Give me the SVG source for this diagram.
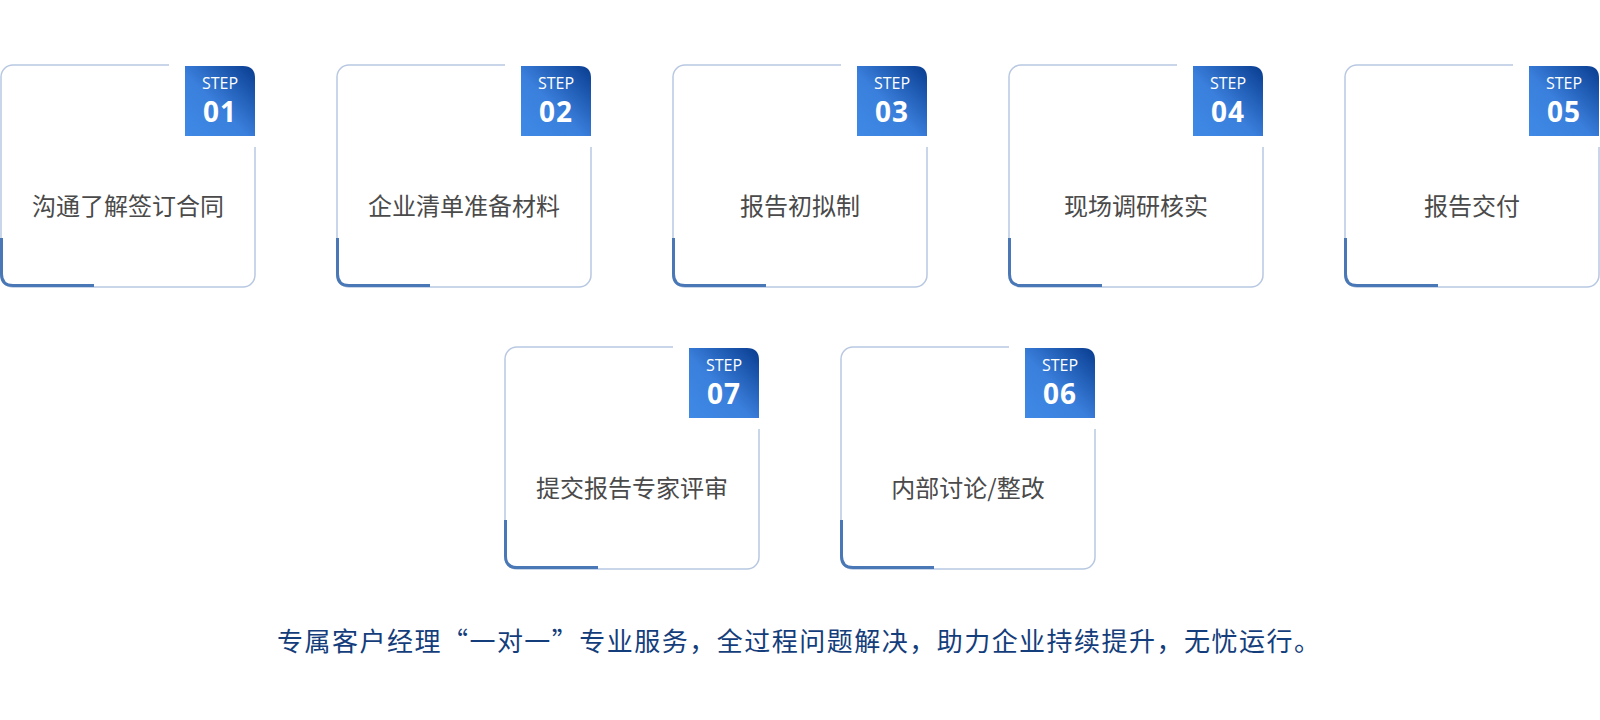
<svg xmlns="http://www.w3.org/2000/svg" width="1600" height="720" viewBox="0 0 1600 720">
<defs>
<linearGradient id="bg" x1="0" y1="1" x2="1" y2="0">
<stop offset="0" stop-color="#3f8ae6"/>
<stop offset="0.45" stop-color="#3a7fdc"/>
<stop offset="1" stop-color="#083c8f"/>
</linearGradient>
<style>
.frame{fill:#fff;stroke:#b8c8e1;stroke-width:1.5}
.cover{fill:#fff}
.acc{fill:none;stroke:#4a77b6;stroke-width:3}
.step{font-family:"Open Sans","Liberation Sans",sans-serif;font-size:16px;fill:#fff;text-anchor:middle}
.num{font-family:"Open Sans","Liberation Sans",sans-serif;font-size:28px;font-weight:700;fill:#fff;text-anchor:middle;letter-spacing:1px}
.lbl{font-family:"Noto Sans CJK SC","Noto Sans",sans-serif;font-size:24px;fill:#4a4a4a;text-anchor:middle}
.foot{font-family:"Noto Sans CJK SC","Noto Sans",sans-serif;font-size:26px;fill:#143d7b}
</style>
<g id="card">
<rect class="frame" x="1" y="0" width="254" height="222" rx="12"/>
<rect class="cover" x="169" y="-2" width="90" height="84"/>
<path d="M185 1 H243 Q255 1 255 13 V71 H185 Z" fill="url(#bg)"/>
<path class="acc" d="M1.5 173 V209 Q1.5 220.5 13 220.5 H94"/>
<text class="step" x="220" y="24">STEP</text>
</g>
</defs>
<g id="step01" transform="translate(0,65)">
<use href="#card"/>
<text class="num" x="220" y="57">01</text>
<text class="lbl" x="128" y="150">沟通了解签订合同</text>
</g>
<g id="step02" transform="translate(336,65)">
<use href="#card"/>
<text class="num" x="220" y="57">02</text>
<text class="lbl" x="128" y="150">企业清单准备材料</text>
</g>
<g id="step03" transform="translate(672,65)">
<use href="#card"/>
<text class="num" x="220" y="57">03</text>
<text class="lbl" x="128" y="150">报告初拟制</text>
</g>
<g id="step04" transform="translate(1008,65)">
<use href="#card"/>
<text class="num" x="220" y="57">04</text>
<text class="lbl" x="128" y="150">现场调研核实</text>
</g>
<g id="step05" transform="translate(1344,65)">
<use href="#card"/>
<text class="num" x="220" y="57">05</text>
<text class="lbl" x="128" y="150">报告交付</text>
</g>
<g id="step07" transform="translate(504,347)">
<use href="#card"/>
<text class="num" x="220" y="57">07</text>
<text class="lbl" x="128" y="150">提交报告专家评审</text>
</g>
<g id="step06" transform="translate(840,347)">
<use href="#card"/>
<text class="num" x="220" y="57">06</text>
<text class="lbl" x="128" y="150">内部讨论/整改</text>
</g>
<g id="connectors"></g>
<text class="foot" x="277" y="651" textLength="1043" lengthAdjust="spacing">专属客户经理“一对一”专业服务，全过程问题解决，助力企业持续提升，无忧运行。</text>
</svg>
